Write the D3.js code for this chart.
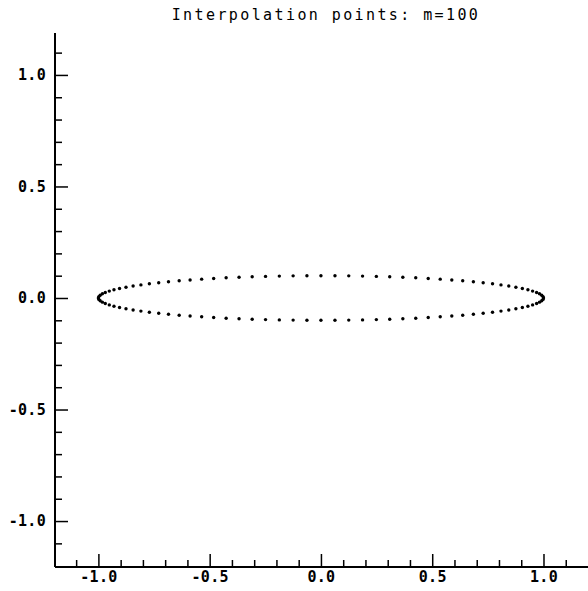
<!DOCTYPE html>
<html>
<head>
<meta charset="utf-8">
<script src="https://cdnjs.cloudflare.com/ajax/libs/d3/7.8.5/d3.min.js"></script>
<style>
  body { margin: 0; background: #fff; }
  svg { display: block; }
  .axis text { font-family: "DejaVu Sans Mono", monospace; font-size: 15px; font-weight: bold; letter-spacing: 0.3px; fill: #000; }
  .axis path, .axis line { stroke: #000; }
</style>
</head>
<body>
<div class="chart"></div>
<script>
const width = 588;
const height = 591;

const title = "Interpolation points: m=100";

// interpolation points (m = 100)
const xs = [
  1.000, 0.998, 0.992, 0.982, 0.969, 0.951, 0.930, 0.905, 0.876, 0.844,
  0.809, 0.771, 0.729, 0.685, 0.637, 0.588, 0.536, 0.482, 0.426, 0.368,
  0.309, 0.249, 0.187, 0.125, 0.063, 0.000,
  -0.063, -0.125, -0.187, -0.249, -0.309, -0.368, -0.426, -0.482, -0.536, -0.588,
  -0.637, -0.685, -0.729, -0.771, -0.809, -0.844, -0.876, -0.905, -0.930, -0.951,
  -0.969, -0.982, -0.992, -0.998, -1.000,
  -0.998, -0.992, -0.982, -0.969, -0.951, -0.930, -0.905, -0.876, -0.844, -0.809,
  -0.771, -0.729, -0.685, -0.637, -0.588, -0.536, -0.482, -0.426, -0.368, -0.309,
  -0.249, -0.187, -0.125, -0.063, 0.000,
  0.063, 0.125, 0.187, 0.249, 0.309, 0.368, 0.426, 0.482, 0.536, 0.588,
  0.637, 0.685, 0.729, 0.771, 0.809, 0.844, 0.876, 0.905, 0.930, 0.951,
  0.969, 0.982, 0.992, 0.998
];
const ys = [
  0.0000, 0.0063, 0.0125, 0.0187, 0.0249, 0.0309, 0.0368, 0.0426, 0.0482, 0.0536,
  0.0588, 0.0637, 0.0685, 0.0729, 0.0771, 0.0809, 0.0844, 0.0876, 0.0905, 0.0930,
  0.0951, 0.0969, 0.0982, 0.0992, 0.0998, 0.1000,
  0.0998, 0.0992, 0.0982, 0.0969, 0.0951, 0.0930, 0.0905, 0.0876, 0.0844, 0.0809,
  0.0771, 0.0729, 0.0685, 0.0637, 0.0588, 0.0536, 0.0482, 0.0426, 0.0368, 0.0309,
  0.0249, 0.0187, 0.0125, 0.0063, 0.0000,
  -0.0063, -0.0125, -0.0187, -0.0249, -0.0309, -0.0368, -0.0426, -0.0482, -0.0536, -0.0588,
  -0.0637, -0.0685, -0.0729, -0.0771, -0.0809, -0.0844, -0.0876, -0.0905, -0.0930, -0.0951,
  -0.0969, -0.0982, -0.0992, -0.0998, -0.1000,
  -0.0998, -0.0992, -0.0982, -0.0969, -0.0951, -0.0930, -0.0905, -0.0876, -0.0844, -0.0809,
  -0.0771, -0.0729, -0.0685, -0.0637, -0.0588, -0.0536, -0.0482, -0.0426, -0.0368, -0.0309,
  -0.0249, -0.0187, -0.0125, -0.0063
];

const majorTicks = [-1.0, -0.5, 0.0, 0.5, 1.0];
const minorTicks = [-1.1, -0.9, -0.8, -0.7, -0.6, -0.4, -0.3, -0.2, -0.1,
                    0.1, 0.2, 0.3, 0.4, 0.6, 0.7, 0.8, 0.9, 1.1];

const svg = d3.select(".chart")
  .append("svg")
  .attr("width", width)
  .attr("height", height);

const mLeft = 55, mRight = 588, mTop = 33, mBottom = 567;

const xScale = d3.scaleLinear()
  .domain([-1.195, 1.2])
  .range([mLeft, mRight]);

const yScale = d3.scaleLinear()
  .domain([-1.206, 1.188])
  .range([mBottom, mTop]);

// minor ticks
svg.append("g")
  .attr("class", "axis")
  .attr("transform", "translate(0," + mBottom + ")")
  .call(d3.axisBottom(xScale).tickValues(minorTicks).tickSize(-7).tickFormat(""))
  .call(g => g.select(".domain").remove());

svg.append("g")
  .attr("class", "axis")
  .attr("transform", "translate(" + mLeft + ",0)")
  .call(d3.axisLeft(yScale).tickValues(minorTicks).tickSize(-7).tickFormat(""))
  .call(g => g.select(".domain").remove());

// major ticks with labels
svg.append("g")
  .attr("class", "axis")
  .attr("transform", "translate(0," + mBottom + ")")
  .call(d3.axisBottom(xScale).tickValues(majorTicks).tickSize(-13).tickPadding(4).tickFormat(d3.format(".1f")))
  .call(g => g.select(".domain").attr("stroke-width", 2).attr("d", "M" + mLeft + ",0H" + mRight));

svg.append("g")
  .attr("class", "axis")
  .attr("transform", "translate(" + mLeft + ",0)")
  .call(d3.axisLeft(yScale).tickValues(majorTicks).tickSize(-13).tickPadding(9).tickFormat(d3.format(".1f")))
  .call(g => g.select(".domain").attr("stroke-width", 2).attr("d", "M0," + mTop + "V" + mBottom));

svg.selectAll(".axis .tick line").attr("stroke-width", 1.5);
svg.selectAll(".axis text").text(function () { return this.textContent.replace("\u2212", "-"); });

// points
svg.append("g")
  .selectAll("circle")
  .data(xs.map((x, i) => [x, ys[i]]))
  .enter()
  .append("circle")
  .attr("cx", d => xScale(d[0]))
  .attr("cy", d => yScale(d[1]))
  .attr("r", 1.7)
  .attr("fill", "#000");

svg.append("text")
  .attr("x", 326)
  .attr("y", 20)
  .attr("text-anchor", "middle")
  .style("font-family", "DejaVu Sans Mono, monospace")
  .style("font-size", "15px")
  .style("letter-spacing", "2.4px")
  .text(title);
</script>
</body>
</html>
